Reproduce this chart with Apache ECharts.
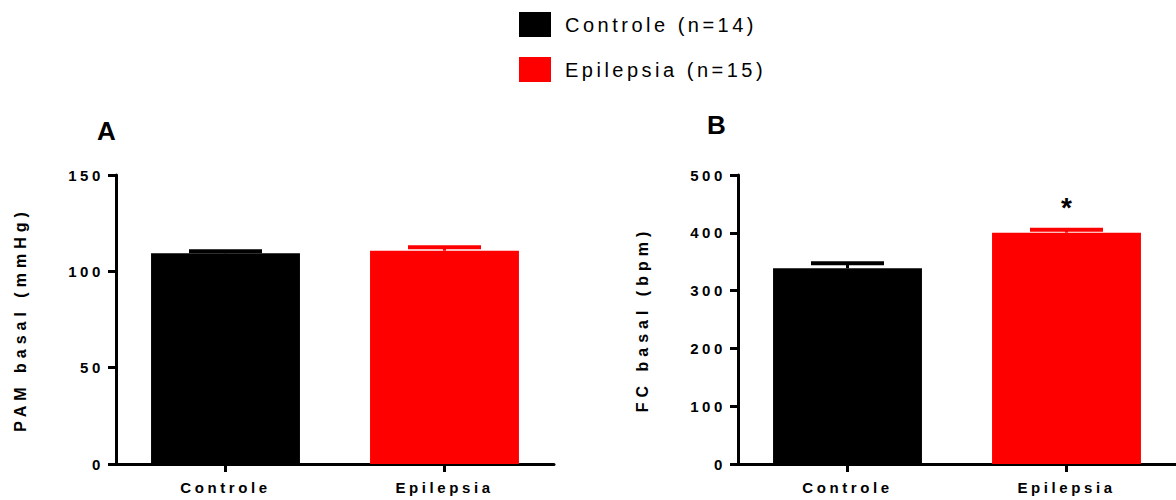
<!DOCTYPE html>
<html>
<head>
<meta charset="utf-8">
<script src="https://cdn.jsdelivr.net/npm/echarts@6/dist/echarts.min.js"></script>
<style>
  html, body { margin: 0; padding: 0; background: #ffffff; }
  #chart { width: 1176px; height: 500px; }
  /* spaced-out lettering, keyed on each label family's font size */
  #chart text[style*="15px"] { letter-spacing: 3.6px; }
  #chart text[style*="16px"] { letter-spacing: 5px; }
  #chart text[style*="20px"] { letter-spacing: 3.5px; }
</style>
</head>
<body>
<div id="chart"></div>
<script>
// Groups and their legend entries
const groups = ['Controle', 'Epilepsia'];
const legendNames = ['Controle (n=14)', 'Epilepsia (n=15)'];
const groupColors = ['#000000', '#ff0000'];

// Panel A: basal mean arterial pressure (mmHg), mean and SEM
const pamMean = [109.4, 110.7];
const pamSem = [1.0, 1.8];
const pamAxis = { min: 0, max: 150, interval: 50 };

// Panel B: basal heart rate (bpm), mean and SEM
const fcMean = [338.6, 400.2];
const fcSem = [8.6, 5.2];
const fcSig = ['', '*'];
const fcAxis = { min: 0, max: 500, interval: 100 };

const FONT = 'Arial, "Liberation Sans", sans-serif';

const chart = echarts.init(document.getElementById('chart'), null, { renderer: 'svg' });

// Upper error bar (stem + cap), optional significance mark above it
function errorBarRenderer(marks) {
  return function (params, api) {
    const i = params.dataIndex;
    const x = api.value(0);
    const m = api.value(1);
    const s = api.value(2);
    const base = api.coord([x, m]);
    const top = api.coord([x, m + s]);
    const half = api.size([1, 0])[0] / 6;
    const color = groupColors[i];
    const children = [
      { type: 'line', shape: { x1: base[0], y1: base[1], x2: top[0], y2: top[1] },
        style: { stroke: color, lineWidth: 3 } },
      { type: 'line', shape: { x1: top[0] - half, y1: top[1], x2: top[0] + half, y2: top[1] },
        style: { stroke: color, lineWidth: 4 } }
    ];
    if (marks && marks[i]) {
      children.push({ type: 'text', x: top[0], y: top[1] - 22,
        style: { text: marks[i], font: 'bold 28px ' + FONT, fill: '#000', align: 'center', verticalAlign: 'middle' } });
    }
    return { type: 'group', children: children };
  };
}

function barSeries(means, axisIdx) {
  return legendNames.map((name, i) => ({
    type: 'bar',
    name: name,
    xAxisIndex: axisIdx,
    yAxisIndex: axisIdx,
    data: groups.map((g, j) => (j === i ? means[i] : '-')),
    barWidth: '68%',
    barGap: '-100%',
    itemStyle: { color: groupColors[i] },
    silent: true,
    animation: false
  }));
}

function errorSeries(means, sems, axisIdx, marks) {
  return {
    type: 'custom',
    xAxisIndex: axisIdx,
    yAxisIndex: axisIdx,
    data: groups.map((g, i) => [i, means[i], sems[i]]),
    renderItem: errorBarRenderer(marks),
    silent: true,
    animation: false,
    z: 3
  };
}

const axisLineStyle = { show: true, lineStyle: { color: '#000', width: 3 } };

function catAxis(idx) {
  return {
    type: 'category', gridIndex: idx, data: groups,
    axisLine: axisLineStyle,
    axisTick: { show: true, alignWithLabel: true, length: 8, lineStyle: { color: '#000', width: 3 } },
    axisLabel: { color: '#000', fontFamily: FONT, fontWeight: 'bold', fontSize: 15, margin: 16 },
    splitLine: { show: false }
  };
}

function valAxis(idx, range, name) {
  return {
    type: 'value', gridIndex: idx,
    min: range.min, max: range.max, interval: range.interval,
    name: name, nameLocation: 'middle', nameGap: 88,
    nameTextStyle: { color: '#000', fontFamily: FONT, fontWeight: 'bold', fontSize: 16 },
    axisLine: axisLineStyle,
    axisTick: { show: true, length: 8, lineStyle: { color: '#000', width: 3 } },
    axisLabel: { color: '#000', fontFamily: FONT, fontWeight: 'bold', fontSize: 15, margin: 12 },
    splitLine: { show: false }
  };
}

chart.setOption({
  backgroundColor: '#ffffff',
  animation: false,
  legend: {
    data: legendNames,
    orient: 'vertical',
    left: 519, top: 12,
    padding: 0,
    itemWidth: 32, itemHeight: 25, itemGap: 20,
    icon: 'rect',
    selectedMode: false,
    textStyle: { color: '#000', fontFamily: FONT, fontSize: 20, padding: [0, 0, 0, 9] }
  },
  grid: [
    { left: 116, top: 175, width: 438, height: 289, outerBoundsMode: 'none', containLabel: false },
    { left: 738, top: 175, width: 438, height: 289, outerBoundsMode: 'none', containLabel: false }
  ],
  xAxis: [catAxis(0), catAxis(1)],
  yAxis: [valAxis(0, pamAxis, 'PAM basal (mmHg)'), valAxis(1, fcAxis, 'FC basal (bpm)')],
  graphic: [
    { type: 'text', left: 97, top: 118, style: { text: 'A', font: 'bold 26px ' + FONT, fill: '#000' } },
    { type: 'text', left: 707, top: 112, style: { text: 'B', font: 'bold 26px ' + FONT, fill: '#000' } }
  ],
  series: [
    ...barSeries(pamMean, 0),
    errorSeries(pamMean, pamSem, 0, null),
    ...barSeries(fcMean, 1),
    errorSeries(fcMean, fcSem, 1, fcSig)
  ]
});
</script>
</body>
</html>
